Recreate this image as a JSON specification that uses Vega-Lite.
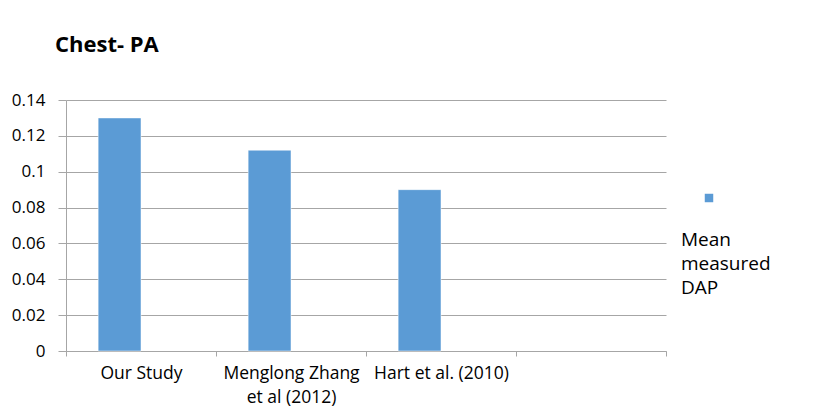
{
  "$schema": "https://vega.github.io/schema/vega-lite/v6.json",
  "width": 600,
  "height": 251,
  "autosize": {"type": "none"},
  "padding": {"left": 66, "top": 100, "right": 160, "bottom": 68},
  "background": "white",
  "title": {
    "text": "Chest- PA",
    "anchor": "start",
    "frame": "group",
    "dx": -11,
    "offset": 34,
    "font": "Open Sans",
    "fontSize": 22,
    "fontWeight": "bold",
    "color": "#000000"
  },
  "data": {
    "values": [
      {"study": "Our Study", "series": "Mean measured DAP", "dap": 0.13},
      {"study": "Menglong Zhang et al (2012)", "series": "Mean measured DAP", "dap": 0.112},
      {"study": "Hart et al. (2010)", "series": "Mean measured DAP", "dap": 0.09}
    ]
  },
  "mark": {"type": "bar", "stroke": "white", "strokeWidth": 0.5},
  "encoding": {
    "x": {
      "field": "study",
      "type": "nominal",
      "sort": null,
      "scale": {
        "domain": ["Our Study", "Menglong Zhang et al (2012)", "Hart et al. (2010)", " "],
        "paddingInner": 0,
        "paddingOuter": 0
      },
      "axis": {
        "title": null,
        "labelAngle": 0,
        "tickBand": "extent",
        "tickSize": 5,
        "tickColor": "#a6a6a6",
        "domainColor": "#a6a6a6",
        "grid": false,
        "labelFont": "Open Sans",
        "labelFontSize": 17.5,
        "labelColor": "#000000",
        "labelPadding": 17,
        "labelLineHeight": 24,
        "labelBaseline": "middle",
        "labelExpr": "datum.value == 'Menglong Zhang et al (2012)' ? ['Menglong Zhang', 'et al (2012)'] : datum.label"
      }
    },
    "xOffset": {
      "field": "series",
      "scale": {
        "domain": ["Mean measured DAP", "(unused)"],
        "paddingInner": 0,
        "paddingOuter": 0.75
      }
    },
    "y": {
      "field": "dap",
      "type": "quantitative",
      "scale": {"domain": [0, 0.14], "nice": false},
      "axis": {
        "title": null,
        "values": [0, 0.02, 0.04, 0.06, 0.08, 0.1, 0.12, 0.14],
        "format": ".2~f",
        "tickSize": 8,
        "tickColor": "#a6a6a6",
        "domainColor": "#a6a6a6",
        "gridColor": "#a6a6a6",
        "labelFont": "Open Sans",
        "labelFontSize": 17,
        "labelColor": "#000000",
        "labelPadding": 13
      }
    },
    "color": {
      "field": "series",
      "type": "nominal",
      "scale": {"range": ["#5b9bd5"]},
      "legend": {
        "orient": "none",
        "legendX": 615,
        "legendY": 93,
        "symbolType": "square",
        "symbolSize": 72,
        "symbolStrokeWidth": 0,
        "symbolOffset": 23,
        "labelExpr": "''",
        "title": ["Mean", "measured", "DAP"],
        "titleOrient": "bottom",
        "titleAnchor": "start",
        "titlePadding": 28,
        "titleFont": "Open Sans",
        "titleFontSize": 19,
        "titleFontWeight": "normal",
        "titleLineHeight": 24,
        "titleColor": "#000000",
        "titleLimit": 200
      }
    }
  },
  "config": {
    "view": {"stroke": null}
  }
}
